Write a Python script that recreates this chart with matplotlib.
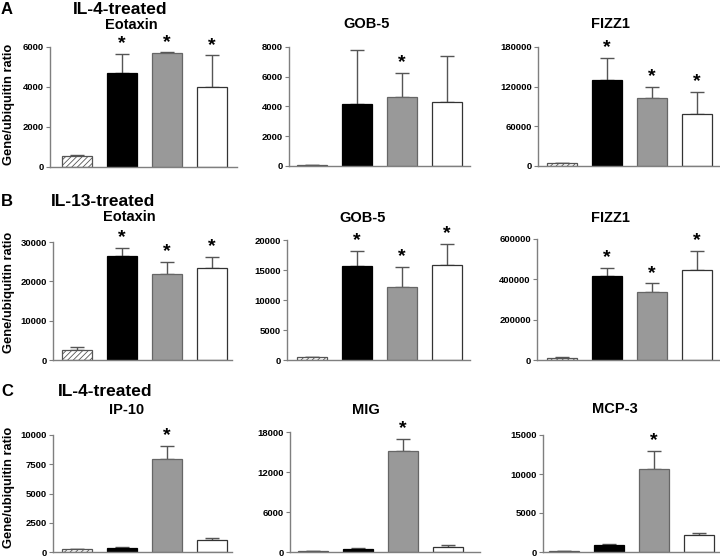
import matplotlib
matplotlib.use("Agg")
import matplotlib.pyplot as plt

plt.rcParams['font.family'] = ['Liberation Sans', 'DejaVu Sans']
plt.rcParams['hatch.linewidth'] = 0.6

# ---------------- data ----------------
groups = ["control", "group1", "group2", "group3"]

titles = ["Eotaxin", "GOB-5", "FIZZ1",
          "Eotaxin", "GOB-5", "FIZZ1",
          "IP-10", "MIG", "MCP-3"]

means = [
    [530, 4700, 5700, 3980],
    [60, 4150, 4670, 4310],
    [4000, 130700, 103000, 79400],
    [2600, 26350, 21840, 23370],
    [450, 15720, 12110, 15890],
    [11600, 419000, 336000, 446000],
    [230, 340, 7910, 1000],
    [100, 500, 15080, 700],
    [86, 860, 10590, 2140],
]
errs = [
    [60, 950, 30, 1600],
    [20, 3670, 1610, 3100],
    [500, 33200, 16700, 32200],
    [600, 2120, 3060, 2810],
    [120, 2390, 3330, 3440],
    [4900, 38000, 43600, 92700],
    [55, 90, 1170, 230],
    [60, 150, 1860, 360],
    [30, 210, 2360, 340],
]
stars = [
    [False, True, True, True],
    [False, False, True, False],
    [False, True, True, True],
    [False, True, True, True],
    [False, True, True, True],
    [False, True, True, True],
    [False, False, True, False],
    [False, False, True, False],
    [False, False, True, False],
]
ymax = [6000, 8000, 180000, 30000, 20000, 600000, 10000, 18000, 15000]
yticks = [
    [0, 2000, 4000, 6000],
    [0, 2000, 4000, 6000, 8000],
    [0, 60000, 120000, 180000],
    [0, 10000, 20000, 30000],
    [0, 5000, 10000, 15000, 20000],
    [0, 200000, 400000, 600000],
    [0, 2500, 5000, 7500, 10000],
    [0, 6000, 12000, 18000],
    [0, 5000, 10000, 15000],
]

row_letters = ["A", "B", "C"]
row_titles = ["IL-4-treated", "IL-13-treated", "IL-4-treated"]
ylabel = "Gene/ubiquitin ratio"

# ---------------- layout (pixels) ----------------
W, H = 720, 556
# left, right, top(ymax), bottom(0)
boxes = [
    (50, 237, 47, 167), (289, 470, 47, 166), (538, 722, 47, 166),
    (53, 232, 242, 360), (287, 470, 240, 360), (537, 722, 239, 360),
    (53, 232, 435, 552), (290, 480, 432, 552), (543, 722, 435, 552),
]
first_center = [77, 312, 562, 77, 312, 562, 77, 313, 564]
spacing = 45.0
title_xy = [(131, 25), (367, 24), (610, 24),
            (129, 217), (363, 218), (610, 218),
            (127, 410), (366, 410), (615, 409)]

fig = plt.figure(figsize=(W / 100, H / 100), dpi=100)

face = ["white", "black", "#999999", "white"]
edge = ["#555555", "black", "#666666", "#333333"]
hatch = ["//////", None, None, None]
axis_col = "#7f7f7f"

for i in range(9):
    L, R, T, B = boxes[i]
    ax = fig.add_axes([L / W, 1 - B / H, (R - L) / W, (B - T) / H])
    xl = -(first_center[i] - L) / spacing
    xr = xl + (R - L) / spacing
    xs = list(range(4))
    ax.errorbar(xs, means[i], yerr=[[0] * 4, errs[i]], fmt='none',
                ecolor="#555555", elinewidth=1.0, capsize=5, capthick=1.0,
                zorder=1)
    for j in range(4):
        ax.bar(xs[j], means[i][j], width=0.66, color=face[j],
               edgecolor=edge[j], hatch=hatch[j], linewidth=0.9, zorder=2)
        if stars[i][j]:
            ax.text(xs[j], means[i][j] + errs[i][j] + ymax[i] * 0.015, "*",
                    ha='center', va='bottom', fontsize=14, fontweight='bold')
    ax.set_xlim(xl, xr)
    ax.set_ylim(0, ymax[i])
    ax.set_yticks(yticks[i])
    ax.set_yticklabels([str(t) for t in yticks[i]], fontsize=6.8,
                       fontweight='bold')
    ax.set_xticks([])
    for s in ["top", "right"]:
        ax.spines[s].set_visible(False)
    for s in ["left", "bottom"]:
        ax.spines[s].set_color(axis_col)
        ax.spines[s].set_linewidth(1.0)
    ax.tick_params(axis='y', length=3, width=0.8, color=axis_col, pad=1.5)
    ax.patch.set_alpha(0)
    tx, ty = title_xy[i]
    fig.text(tx / W, 1 - ty / H, titles[i], ha='center', va='center',
             fontsize=10.5, fontweight='bold')

letter_y = [9, 202, 391]
row_y = [10, 201, 391]
row_title_x = [120, 103, 105]
ylab_y = [104, 292, 487]
for r in range(3):
    fig.text(7 / W, 1 - letter_y[r] / H, row_letters[r], ha='center',
             va='center', fontsize=12, fontweight='bold')
    fig.text(row_title_x[r] / W, 1 - row_y[r] / H, row_titles[r], ha='center',
             va='center', fontsize=12.5, fontweight='bold')
    fig.text(9 / W, 1 - ylab_y[r] / H, ylabel, ha='center', va='center',
             rotation=90, fontsize=9.3, fontweight='bold')

fig.savefig("out.png", dpi=100)
